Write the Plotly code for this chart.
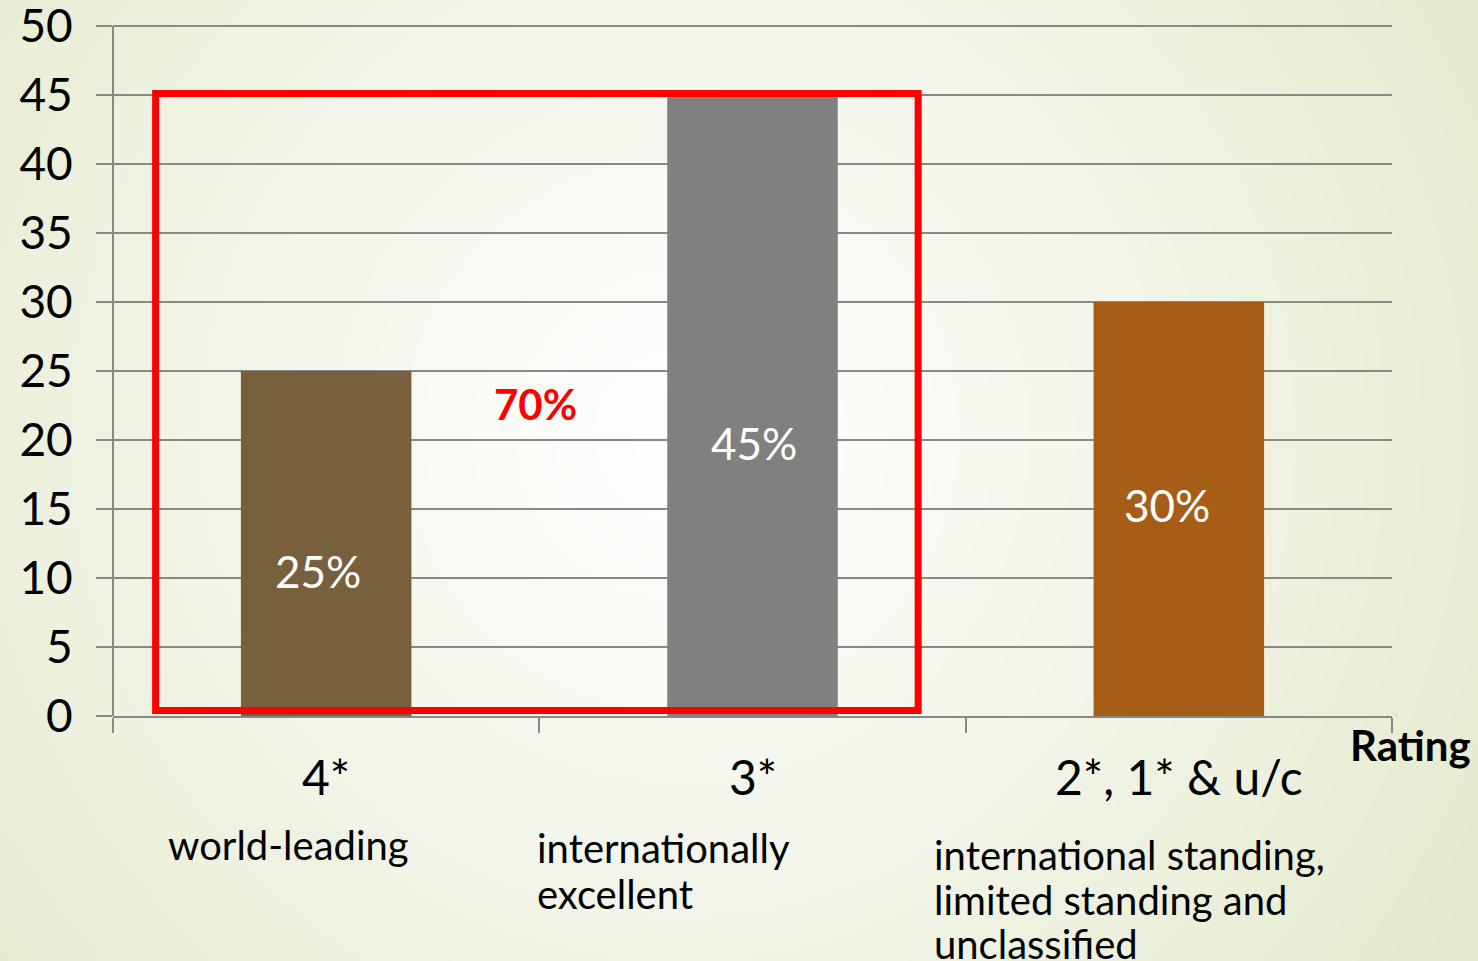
import base64
import struct
import zlib

import numpy as np
import plotly.graph_objects as go

# ---- data -------------------------------------------------------------
categories = ["4*", "3*", "2*, 1* & u/c"]
shares = [25, 45, 30]
bar_colors = ["#77603B", "#808080", "#A65E16"]
descriptions = [
    ["world-leading"],
    ["internationally", "excellent"],
    ["international standing,", "limited standing and", "unclassified"],
]
y_ticks = list(range(0, 55, 5))
y_max = 50
highlight_label = "70%"

# ---- canvas geometry --------------------------------------------------
W, H = 1478, 961
L, R, T, B = 113, 86, 23, 245
PW, PH = W - L - R, H - T - B
AXIS_TOP_PX = 26                      # pixel row of the top tick
Y_RANGE_TOP = y_max * (H - B - T) / (H - B - AXIS_TOP_PX)


def px_x(x):
    return (x - L) / PW


def px_y(y):
    return (H - B - y) / PH


# ---- soft radial background ------------------------------------------
def radial_png(w, h, cx, cy, inner, outer):
    yy, xx = np.mgrid[0:h, 0:w]
    d = np.hypot((xx - cx) / w, (yy - cy) / h * (h / w))
    dmax = d.max()
    t = np.clip(d / dmax, 0, 1) ** 1.1
    inner = np.array(inner, float)
    outer = np.array(outer, float)
    img = (inner[None, None, :] * (1 - t[..., None]) + outer[None, None, :] * t[..., None])
    img = img.astype(np.uint8)
    raw = b"".join(b"\x00" + img[r].tobytes() for r in range(h))

    def chunk(tag, data):
        return (struct.pack(">I", len(data)) + tag + data
                + struct.pack(">I", zlib.crc32(tag + data) & 0xFFFFFFFF))

    png = (b"\x89PNG\r\n\x1a\n"
           + chunk(b"IHDR", struct.pack(">IIBBBBB", w, h, 8, 2, 0, 0, 0))
           + chunk(b"IDAT", zlib.compress(raw, 9))
           + chunk(b"IEND", b""))
    return "data:image/png;base64," + base64.b64encode(png).decode()


bg_w, bg_h = 370, 240
bg_src = radial_png(bg_w, bg_h, bg_w * 0.46, bg_h * 0.45,
                    (255, 255, 255), (228, 234, 205))

FONT = "Lato"

fig = go.Figure()
fig.add_trace(go.Bar(
    x=categories,
    y=shares,
    marker=dict(color=bar_colors, line=dict(width=0)),
    width=0.4,
    hoverinfo="skip",
    showlegend=False,
))

# value labels inside bars
label_frac = [0.42, 0.44, 0.51]
label_shift = [-8, 1, -12]
annotations = []
for i, (v, f, s) in enumerate(zip(shares, label_frac, label_shift)):
    annotations.append(dict(
        x=i, y=v * f, xref="x", yref="y", text=f"{v}%", showarrow=False,
        xshift=s, xanchor="center", yanchor="middle",
        font=dict(family=FONT, size=44, color="white"),
    ))

# category names under the axis
for i, c in enumerate(categories):
    annotations.append(dict(
        x=i, y=px_y(776), xref="x", yref="paper", text=c, showarrow=False,
        xanchor="center", yanchor="middle",
        font=dict(family=FONT, size=48, color="black"),
    ))

# multi-line descriptions, one annotation per line
desc_left = [-0.376, 0.489, 1.42]
desc_rows = [[845], [848, 894], [855, 900, 944]]
for left, lines, rows in zip(desc_left, descriptions, desc_rows):
    for line, row in zip(lines, rows):
        annotations.append(dict(
            x=left, y=px_y(row), xref="x", yref="paper", text=line,
            showarrow=False, xanchor="left", yanchor="middle",
            font=dict(family=FONT, size=40, color="black"),
        ))

# combined share of the top two ratings
annotations.append(dict(
    x=0.49, y=22.6, xref="x", yref="y", text=highlight_label,
    showarrow=False, xanchor="center", yanchor="middle",
    font=dict(family=FONT, size=42, color="#FF0000", weight="bold"),
))

annotations.append(dict(
    x=px_x(1473), y=px_y(745), xref="paper", yref="paper", text="Rating",
    showarrow=False, xanchor="right", yanchor="middle",
    font=dict(family=FONT, size=42, color="black", weight="bold"),
))

fig.update_layout(
    width=W, height=H,
    margin=dict(l=L, r=R, t=T, b=B, pad=0, autoexpand=False),
    paper_bgcolor="#F1F4E6",
    plot_bgcolor="rgba(0,0,0,0)",
    bargap=0.6,
    images=[dict(
        source=bg_src, xref="paper", yref="paper",
        x=-L / PW, y=1 + T / PH, sizex=W / PW, sizey=H / PH,
        xanchor="left", yanchor="top", sizing="stretch", layer="below",
    )],
    shapes=[
        # value axis line, running only up to the top tick
        dict(type="line", xref="paper", yref="y", x0=0, x1=0, y0=0, y1=y_max,
             line=dict(color="#888888", width=2), layer="below"),
        # box around the top two ratings
        dict(type="rect", xref="x", yref="y",
             x0=-0.400, x1=1.3885, y0=0.4, y1=45.1,
             line=dict(color="#FF0000", width=7),
             fillcolor="rgba(0,0,0,0)", layer="above"),
    ],
    annotations=annotations,
    xaxis=dict(
        type="category", range=[-0.5, 2.5], automargin=False,
        showticklabels=False, showgrid=False, zeroline=False,
        ticks="outside", tickson="boundaries", ticklen=15,
        tickcolor="#888888", tickwidth=2,
        showline=True, linecolor="#888888", linewidth=2,
        fixedrange=True,
    ),
    yaxis=dict(
        range=[0, Y_RANGE_TOP], automargin=False,
        tickmode="array", tickvals=y_ticks,
        ticktext=[str(v) for v in y_ticks],
        showgrid=True, gridcolor="#888888", gridwidth=2, zeroline=False,
        ticks="outside", ticklen=16, tickcolor="#888888", tickwidth=2,
        showline=False,
        tickfont=dict(family=FONT, size=46, color="black"),
        ticklabelstandoff=14,
        ticklabeloverflow="allow",
        fixedrange=True,
    ),
)

fig.write_html("out.html", config={"displayModeBar": False})
